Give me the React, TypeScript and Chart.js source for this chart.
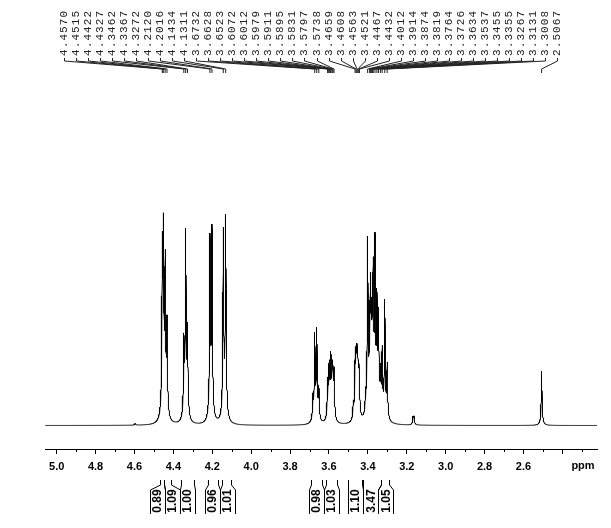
import React, { useEffect, useRef } from "react";
import { Chart, registerables } from "chart.js";

Chart.register(...registerables);

// ---- data ----
const labeledShifts = [
  4.457, 4.4515, 4.4422, 4.4327, 4.3462, 4.3367, 4.3272, 4.212, 4.2016, 4.1434, 4.1311,
  3.6732, 3.6628, 3.6523, 3.6072, 3.6012, 3.5979, 3.5911, 3.5895, 3.5831, 3.5797, 3.5738,
  3.4659, 3.4608, 3.4563, 3.4521, 3.4467, 3.4432,
  3.4012, 3.3914, 3.3874, 3.3819, 3.3764, 3.3726, 3.3634, 3.3537, 3.3455, 3.3355, 3.3267, 3.3131, 3.3008,
  2.5067,
];
const labeledHeights = [
  193.5, 212.5, 176.5, 110.5, 92.5, 197.5, 103.5, 192.5, 201.5, 198.5, 211.5,
  93.5, 98.5, 40.5, 48.5, 60.5, 65.5, 72.5, 70.5, 65.5, 60.5, 58.5,
  68.5, 80.5, 82.5, 78.5, 65.5, 42.5,
  189.5, 105.5, 153.5, 128.5, 135.5, 168.5, 193.5, 137.5, 118.5, 62.5, 80.5, 126.5, 63.5,
  54.5,
];
const extraShifts = [4.597, 3.683, 3.475, 3.412, 3.168, 3.163];
const extraHeights = [2, 32.5, 25.5, 38.5, 9.5, 9.5];

const integralFrom = [4.47, 4.449, 4.36, 4.22, 4.15, 3.69, 3.615, 3.5, 3.425, 3.335];
const integralTo = [4.449, 4.41, 4.295, 4.17, 4.105, 3.635, 3.56, 3.43, 3.335, 3.29];
const integralValues = ["0.89", "1.09", "1.00", "0.96", "1.01", "0.98", "1.03", "1.10", "3.47", "1.05"];

const majorTicks = [5.0, 4.8, 4.6, 4.4, 4.2, 4.0, 3.8, 3.6, 3.4, 3.2, 3.0, 2.8, 2.6, 2.4];
const minorTicks = [4.9, 4.7, 4.5, 4.3, 4.1, 3.9, 3.7, 3.5, 3.3, 3.1, 2.9, 2.7, 2.5, 2.3];

const X_MIN = 2.222;
const X_MAX = 5.06;

// ---- lineshape ----
const G1 = 0.0024;
const G2 = 0.009;
const FOOT = 0.07;
function shape(d: number) {
  return (1 - FOOT) * (G1 * G1) / (d * d + G1 * G1) + FOOT * (G2 * G2) / (d * d + G2 * G2);
}

function buildSpectrum() {
  const shifts = labeledShifts.concat(extraShifts);
  const targets = labeledHeights.concat(extraHeights);
  const n = shifts.length;
  const amps = targets.slice();
  for (let it = 0; it < 400; it++) {
    for (let i = 0; i < n; i++) {
      let s = 0;
      for (let j = 0; j < n; j++) if (j !== i) s += amps[j] * shape(shifts[i] - shifts[j]);
      const nv = Math.max(0.08 * targets[i], targets[i] - s);
      amps[i] = amps[i] + 0.5 * (nv - amps[i]);
    }
  }
  const xs: number[] = [];
  for (let v = X_MIN; v <= X_MAX; v += 0.0004) xs.push(v);
  for (const s of shifts) xs.push(s);
  xs.sort((a, b) => a - b);
  return xs.map((x) => {
    let y = 0;
    for (let j = 0; j < n; j++) y += amps[j] * shape(x - shifts[j]);
    return { x, y };
  });
}

const overlayPlugin = {
  id: "nmrOverlay",
  afterDraw(chart: any) {
    const ctx: CanvasRenderingContext2D = chart.ctx;
    const xs = chart.scales.x;
    const area = chart.chartArea;
    ctx.save();
    ctx.strokeStyle = "#000";
    ctx.lineWidth = 1;

    // minor ticks
    ctx.beginPath();
    for (const v of minorTicks) {
      const px = Math.round(xs.getPixelForValue(v)) + 0.5;
      ctx.moveTo(px, area.bottom);
      ctx.lineTo(px, area.bottom + 3);
    }
    ctx.stroke();

    // ppm label
    ctx.fillStyle = "#000";
    ctx.font = 'bold 11px "Liberation Sans", Arial, sans-serif';
    ctx.textAlign = "center";
    ctx.textBaseline = "middle";
    ctx.fillText("ppm", area.right - 14, area.bottom + 17);

    // peak labels
    const n = labeledShifts.length;
    const lx0 = 64;
    const lx1 = 557;
    ctx.font = '11px "Liberation Mono", "DejaVu Sans Mono", monospace';
    (ctx as any).letterSpacing = "1.1px";
    ctx.fillStyle = "#222";
    ctx.strokeStyle = "#222";
    ctx.beginPath();
    for (let i = 0; i < n; i++) {
      const lx = Math.round(lx0 + (i * (lx1 - lx0)) / (n - 1)) + 0.5;
      const px = xs.getPixelForValue(labeledShifts[i]);
      ctx.save();
      ctx.translate(lx, 56);
      ctx.rotate(-Math.PI / 2);
      ctx.textAlign = "left";
      ctx.textBaseline = "middle";
      ctx.fillText(labeledShifts[i].toFixed(4), 0, 0);
      ctx.restore();
      ctx.moveTo(lx, 58);
      ctx.lineTo(lx, 61);
      ctx.lineTo(px, 69);
      ctx.lineTo(px, 73);
    }
    ctx.stroke();
    (ctx as any).letterSpacing = "0px";

    // integrals
    const W = 15;
    const m = integralValues.length;
    const e0 = integralFrom.map((v) => xs.getPixelForValue(v));
    const e1 = integralTo.map((v) => xs.getPixelForValue(v));
    const c = e0.map((a, i) => (a + e1[i]) / 2);
    for (let it = 0; it < 200; it++) {
      for (let i = 0; i < m - 1; i++) {
        const d = c[i + 1] - c[i];
        if (d < W) {
          const p = (W - d) / 2;
          c[i] -= p;
          c[i + 1] += p;
        }
      }
    }
    ctx.strokeStyle = "#000";
    ctx.fillStyle = "#000";
    ctx.beginPath();
    const yA = 480, yB = 485, yC = 490, yD = 514;
    for (let i = 0; i < m; i++) {
      const bl = Math.round(c[i] - W / 2) + 0.5;
      const br = Math.round(c[i] + W / 2) + 0.5;
      const a = Math.round(e0[i]) + 0.5;
      const b = Math.round(e1[i]) + 0.5;
      ctx.moveTo(a, yA);
      ctx.lineTo(a, yB);
      ctx.lineTo(bl, yC);
      ctx.lineTo(bl, yD);
      ctx.moveTo(b, yA);
      ctx.lineTo(b, yB);
      ctx.lineTo(br, yC);
      ctx.lineTo(br, yD);
    }
    ctx.stroke();
    ctx.font = 'bold 12px "Liberation Sans", Arial, sans-serif';
    for (let i = 0; i < m; i++) {
      ctx.save();
      ctx.translate(c[i] + 0.5, 501);
      ctx.rotate(-Math.PI / 2);
      ctx.textAlign = "center";
      ctx.textBaseline = "middle";
      ctx.fillText(integralValues[i], 0, 0);
      ctx.restore();
    }
    ctx.restore();
  },
};

export default function App() {
  const ref = useRef<HTMLCanvasElement | null>(null);
  useEffect(() => {
    if (!ref.current) return;
    const data = buildSpectrum();
    const chart = new Chart(ref.current, {
      type: "line",
      data: {
        datasets: [
          {
            data,
            borderColor: "#000",
            borderWidth: 1,
            pointRadius: 0,
            tension: 0,
            fill: false,
          },
        ],
      },
      options: {
        animation: false,
        responsive: false,
        devicePixelRatio: 1,
        parsing: false,
        normalized: true,
        layout: { padding: { left: 45, right: 14, top: 75, bottom: 0 } },
        plugins: { legend: { display: false }, tooltip: { enabled: false } },
        scales: {
          x: {
            type: "linear",
            min: X_MIN,
            max: X_MAX,
            reverse: true,
            afterBuildTicks: (scale: any) => {
              scale.ticks = majorTicks.map((v) => ({ value: v }));
            },
            afterFit: (scale: any) => {
              scale.height = 79;
            },
            grid: {
              display: true,
              drawOnChartArea: false,
              drawTicks: true,
              tickLength: 5,
              color: "#000",
              lineWidth: 1,
            },
            border: { display: true, color: "#000", width: 1 },
            ticks: {
              autoSkip: false,
              maxRotation: 0,
              padding: 6,
              color: "#000",
              font: { family: '"Liberation Sans", Arial, sans-serif', size: 11, weight: "bold" },
              callback: (v: any) => (Math.abs(Number(v) - 2.4) < 1e-6 ? "" : Number(v).toFixed(1)),
            },
          },
          y: { display: false, min: -23.5, max: 350.5 },
        },
      },
      plugins: [overlayPlugin],
    } as any);
    return () => chart.destroy();
  }, []);
  return (
    <div style={{ position: "fixed", left: 0, top: 0, width: 611, height: 528, background: "#fff" }}>
      <canvas ref={ref} width={611} height={528} style={{ display: "block" }} />
    </div>
  );
}
